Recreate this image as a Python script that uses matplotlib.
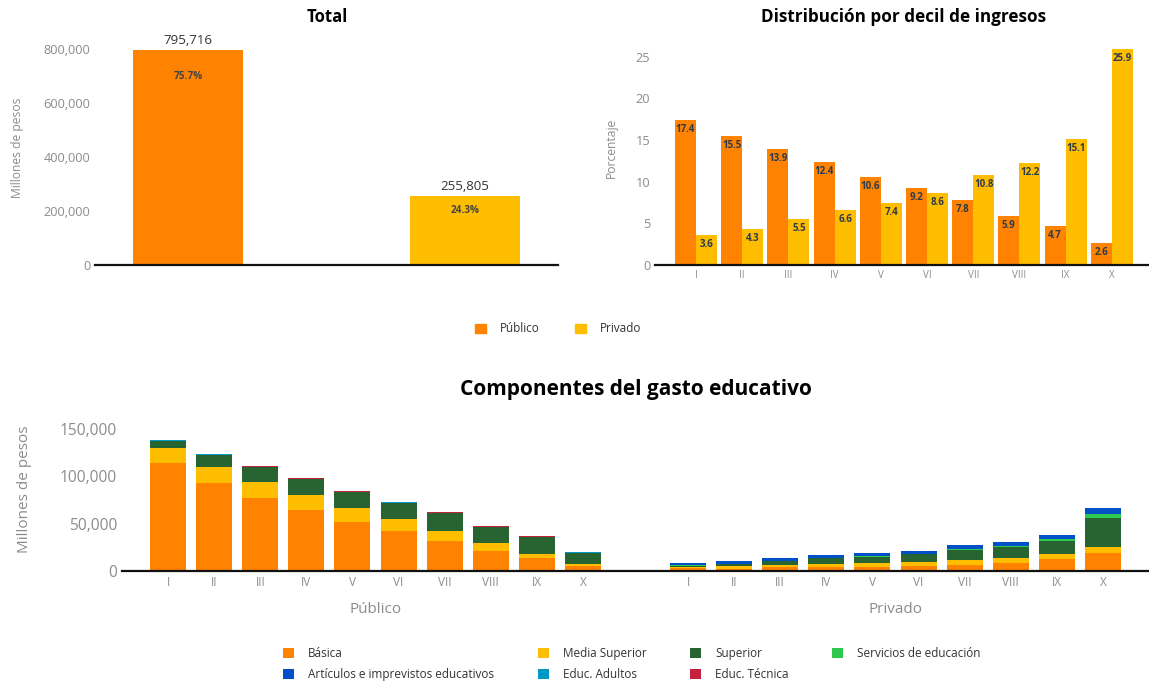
import matplotlib
matplotlib.use("Agg")
import matplotlib.pyplot as plt
from matplotlib.patches import Patch

plt.rcParams['font.family'] = ['Open Sans', 'DejaVu Sans']

# ---- data ----
sectores = ['Público', 'Privado']
totales = [795716, 255805]
pct_total = ['75.7%', '24.3%']

deciles = ['I', 'II', 'III', 'IV', 'V', 'VI', 'VII', 'VIII', 'IX', 'X']
pct_publico = [17.4, 15.5, 13.9, 12.4, 10.6, 9.2, 7.8, 5.9, 4.7, 2.6]
pct_privado = [3.6, 4.3, 5.5, 6.6, 7.4, 8.6, 10.8, 12.2, 15.1, 25.9]

componentes = ['Básica', 'Media Superior', 'Superior', 'Servicios de educación',
               'Artículos e imprevistos educativos', 'Educ. Adultos', 'Educ. Técnica']
pub_basica = [114000, 93000, 77100, 64400, 51700, 42200, 31700, 21100, 13700, 5300]
pub_media = [15800, 16900, 16900, 15800, 14800, 12700, 10600, 8400, 4200, 2100]
pub_superior = [7700, 13000, 15800, 16900, 16900, 16900, 19000, 16900, 18000, 11600]
pub_servicios = [0, 0, 0, 0, 0, 0, 0, 0, 0, 0]
pub_articulos = [0, 0, 0, 0, 0, 0, 0, 0, 0, 0]
pub_adultos = [800, 200, 200, 200, 200, 900, 200, 200, 200, 700]
pub_tecnica = [600, 900, 900, 900, 900, 600, 900, 900, 900, 700]

priv_basica = [3200, 1800, 3900, 3900, 3900, 4900, 6000, 8100, 12300, 18700]
priv_media = [1400, 3200, 2100, 3200, 4200, 4200, 5300, 5300, 5300, 6300]
priv_superior = [1000, 2100, 4200, 6300, 6300, 8400, 10600, 11600, 13700, 30600]
priv_servicios = [300, 200, 200, 200, 1000, 200, 1000, 1000, 2100, 4200]
priv_articulos = [2500, 3200, 3200, 3200, 3200, 3200, 4200, 4200, 4200, 6300]
priv_adultos = [0, 0, 0, 0, 0, 0, 0, 0, 0, 0]
priv_tecnica = [0, 0, 0, 0, 0, 0, 0, 0, 0, 0]

c_pub = '#FF8300'
c_priv = '#FFBD00'
comp_colors = ['#FF8300', '#FFBD00', '#286332', '#2DC84D', '#0050C8', '#0098C8', '#C4213F']

GREY = '#8c8c8c'
W, H = 1149, 685
fig = plt.figure(figsize=(W / 100, H / 100), dpi=100)


def rect(l, t, r, b):
    return [l / W, 1 - b / H, (r - l) / W, (b - t) / H]


def fig_xy(px, py):
    return px / W, 1 - py / H


def clean(ax):
    for s in ['top', 'right', 'left']:
        ax.spines[s].set_visible(False)
    ax.spines['bottom'].set_linewidth(1.6)
    ax.spines['bottom'].set_color('#111111')
    ax.tick_params(length=0, colors=GREY)


# ---- Total ----
ax1 = fig.add_axes(rect(95, 49, 558, 265))
clean(ax1)
ax1.bar([0, 1], totales, width=0.397, color=[c_pub, c_priv])
pct_offset = [-26, -15]  # pixels below bar top
for i, v in enumerate(totales):
    ax1.text(i, v + 12000, '{:,}'.format(v), ha='center', va='bottom', fontsize=9.5, color='#333333')
    ax1.annotate(pct_total[i], (i, v), xytext=(0, pct_offset[i] * 0.72), textcoords='offset points',
                 ha='center', va='center', fontsize=7.2, fontweight='bold', color='#444444')
ax1.set_xlim(-0.336, 1.336)
ax1.set_ylim(0, 800000)
ax1.set_yticks([0, 200000, 400000, 600000, 800000])
ax1.set_yticklabels(['{:,}'.format(t) for t in [0, 200000, 400000, 600000, 800000]], fontsize=9.2)
ax1.set_xticks([])
fig.text(*fig_xy(18, 148), 'Millones de pesos', rotation=90, ha='center', va='center',
         fontsize=8.7, color=GREY)
fig.text(*fig_xy(327, 17), 'Total', ha='center', va='center', fontsize=12, fontweight='bold')

# ---- Distribución por decil ----
ax2 = fig.add_axes(rect(655, 44, 1149, 265))
clean(ax2)
x = list(range(len(deciles)))
bw = 0.455
ax2.bar([i - bw / 2 for i in x], pct_publico, width=bw, color=c_pub)
ax2.bar([i + bw / 2 for i in x], pct_privado, width=bw, color=c_priv)
for i in x:
    ax2.text(i - bw / 2, pct_publico[i] - 1.15, '{:.1f}'.format(pct_publico[i]), ha='center',
             va='center', fontsize=7.0, fontweight='bold', color='#2d3b4d')
    ax2.text(i + bw / 2, pct_privado[i] - 1.15, '{:.1f}'.format(pct_privado[i]), ha='center',
             va='center', fontsize=7.0, fontweight='bold', color='#2d3b4d')
ax2.set_xlim(-0.887, 9.805)
ax2.set_ylim(0, 26.5)
ax2.set_yticks([0, 5, 10, 15, 20, 25])
ax2.tick_params(axis='y', labelsize=9.2)
ax2.set_xticks(x)
ax2.set_xticklabels(deciles, fontsize=7)
fig.text(*fig_xy(611, 148), 'Porcentaje', rotation=90, ha='center', va='center',
         fontsize=8.7, color=GREY)
fig.text(*fig_xy(904, 17), 'Distribución por decil de ingresos', ha='center', va='center',
         fontsize=12.3, fontweight='bold')

fig.legend(handles=[Patch(color=c_pub), Patch(color=c_priv)], labels=sectores,
           loc='center', bbox_to_anchor=fig_xy(558, 329), ncol=2, frameon=False,
           fontsize=8.5, handlelength=0.9, handleheight=0.9, handletextpad=1.2,
           columnspacing=3.0, labelcolor='#333333')

# ---- Componentes del gasto educativo ----
ax3 = fig.add_axes(rect(122, 429, 1149, 571))
clean(ax3)
offset = 11.28
xp = [i for i in range(10)]
xv = [i + offset for i in range(10)]
pub_series = [pub_basica, pub_media, pub_superior, pub_servicios, pub_articulos, pub_adultos, pub_tecnica]
priv_series = [priv_basica, priv_media, priv_superior, priv_servicios, priv_articulos, priv_adultos, priv_tecnica]
handles = []
bp = [0] * 10
bv = [0] * 10
for k, name in enumerate(componentes):
    h = ax3.bar(xp, pub_series[k], bottom=bp, width=0.78, color=comp_colors[k], label=name)
    ax3.bar(xv, priv_series[k], bottom=bv, width=0.78, color=comp_colors[k])
    bp = [a + b for a, b in zip(bp, pub_series[k])]
    bv = [a + b for a, b in zip(bv, priv_series[k])]
    handles.append(h)
ax3.set_xlim(-1.0, 21.28)
ax3.set_ylim(0, 150000)
ax3.set_yticks([0, 50000, 100000, 150000])
ax3.set_yticklabels(['{:,}'.format(t) for t in [0, 50000, 100000, 150000]], fontsize=11.2)
ax3.set_xticks(xp + xv)
ax3.set_xticklabels(deciles + deciles, fontsize=8.5)
fig.text(*fig_xy(25, 489), 'Millones de pesos', rotation=90, ha='center', va='center',
         fontsize=11, color=GREY)
ax3.text(4.5, -0.27, sectores[0], transform=ax3.get_xaxis_transform(), ha='center', va='center',
         fontsize=11, color=GREY)
ax3.text(4.5 + offset, -0.27, sectores[1], transform=ax3.get_xaxis_transform(), ha='center',
         va='center', fontsize=11, color=GREY)
fig.text(*fig_xy(636, 390), 'Componentes del gasto educativo', ha='center', va='center',
         fontsize=15, fontweight='bold')

# legend: row-major order in the reference -> reorder for column filling
order = [0, 4, 1, 5, 2, 6, 3]
fig.legend([handles[i] for i in order], [componentes[i] for i in order],
           loc='center', bbox_to_anchor=fig_xy(632, 664), ncol=4, frameon=False,
           fontsize=8.5, handlelength=0.9, handleheight=0.9, handletextpad=1.2,
           columnspacing=3.7, labelspacing=0.65, labelcolor='#333333')

fig.savefig('out.png', dpi=100)
